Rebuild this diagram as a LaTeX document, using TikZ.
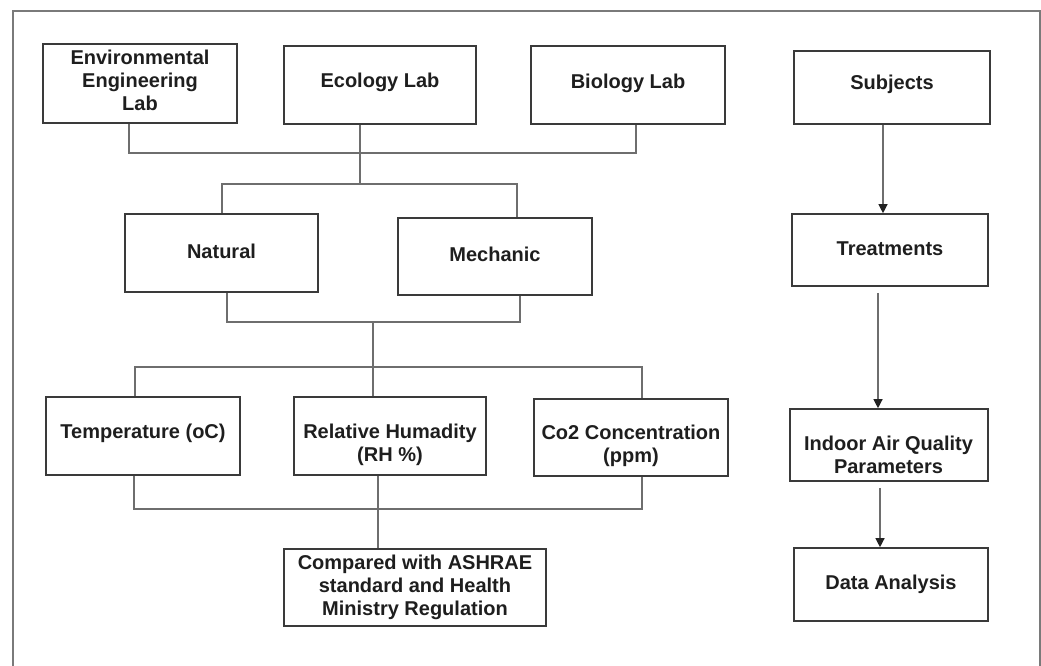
\documentclass[tikz,border=0pt]{standalone}
\usepackage{fontspec}
\setmainfont{Liberation Sans}
\usetikzlibrary{arrows.meta}
\definecolor{boxc}{HTML}{3A3A3A}
\definecolor{connc}{HTML}{6E6E6E}
\definecolor{framec}{HTML}{7A7A7A}
\definecolor{txtc}{HTML}{1E1E1E}
\definecolor{tipc}{HTML}{222222}
\begin{document}
\begin{tikzpicture}[x=1pt,y=-1pt,
  box/.style={draw=boxc, line width=1.6pt, inner sep=0pt},
  txt/.style={inner sep=0pt, align=center, text=txtc, font=\fontsize{20}{23}\selectfont\bfseries},
  conn/.style={draw=connc, line width=1.2pt},
  arr/.style={conn, -{Triangle[length=9pt,width=9pt,color=tipc]}}]
\useasboundingbox (0,0) rectangle (1041,666);
\draw[draw=framec, line width=1.5pt] (13,666) -- (13,11) -- (1040,11) -- (1040,666);

% boxes
\node[box, minimum width=194pt, minimum height=79pt] (env) at (140,83.5) {};
\node[box, minimum width=192pt, minimum height=78pt] (eco) at (380,85) {};
\node[box, minimum width=194pt, minimum height=78pt] (bio) at (628,85) {};
\node[box, minimum width=196pt, minimum height=73pt] (subj) at (892,87.5) {};
\node[box, minimum width=193pt, minimum height=78pt] (nat) at (221.5,253) {};
\node[box, minimum width=194pt, minimum height=77pt] (mech) at (495,256.5) {};
\node[box, minimum width=196pt, minimum height=72pt] (treat) at (890,250) {};
\node[box, minimum width=194pt, minimum height=78pt] (temp) at (143,436) {};
\node[box, minimum width=192pt, minimum height=78pt] (rh) at (390,436) {};
\node[box, minimum width=194pt, minimum height=77pt] (co2) at (631,437.5) {};
\node[box, minimum width=198pt, minimum height=72pt] (iaq) at (889,445) {};
\node[box, minimum width=262pt, minimum height=77pt] (comp) at (415,587.5) {};
\node[box, minimum width=194pt, minimum height=73pt] (data) at (891,584.5) {};

% texts
\node[txt] (envt) at (140,80) {Environmental\\Engineering\\Lab};
\node[txt] (ecot) at (380,82) {Ecology Lab};
\node[txt] (biot) at (628,83) {Biology Lab};
\node[txt] (subjt) at (892,84) {Subjects};
\node[txt] (natt) at (221.5,251) {Natural};
\node[txt] (mecht) at (495,254) {Mechanic};
\node[txt] (treatt) at (890,249) {Treatments};
\node[txt] (tempt) at (143,433) {Temperature (oC)};
\node[txt] (rht) at (390,445) {Relative Humadity\\(RH \%)};
\node[txt] (co2t) at (631,446) {Co2 Concentration\\(ppm)};
\node[txt] (iaqt) at (888.5,455) {Indoor Air Quality\\Parameters};
\node[txt] (compt) at (415,587) {Compared with ASHRAE\\standard and Health\\Ministry Regulation};
\node[txt] (datat) at (891,584) {Data Analysis};

% connectors, left part
\coordinate (a1) at (129,153);
\coordinate (a2) at (636,153);
\draw[conn] (env.south -| a1) -- (a1) -- (a2) -- (bio.south -| a2);
\coordinate (a3) at (360,184);
\coordinate (a4) at (222,184);
\coordinate (a5) at (517,184);
\draw[conn] (eco.south -| a3) -- (a3);
\draw[conn] (nat.north -| a4) -- (a4) -- (a5) -- (mech.north -| a5);
\coordinate (b1) at (227,322);
\coordinate (b2) at (520,322);
\coordinate (b3) at (373,322);
\draw[conn] (nat.south -| b1) -- (b1) -- (b2) -- (mech.south -| b2);
\draw[conn] (b3) -- (rh.north -| b3);
\coordinate (c1) at (135,367);
\coordinate (c2) at (642,367);
\draw[conn] (temp.north -| c1) -- (c1) -- (c2) -- (co2.north -| c2);
\coordinate (d1) at (134,509);
\coordinate (d2) at (642,509);
\draw[conn] (temp.south -| d1) -- (d1) -- (d2) -- (co2.south -| d2);
\coordinate (d3) at (378,0);
\draw[conn] (rh.south -| d3) -- (comp.north -| d3);

% connectors, right part
\coordinate (r1) at (883,0);
\draw[arr] (subj.south -| r1) -- (treat.north -| r1);
\coordinate (r2) at (878,0);
\draw[arr, shorten <=6pt] (treat.south -| r2) -- (iaq.north -| r2);
\coordinate (r3) at (880,0);
\draw[arr, shorten <=6pt] (iaq.south -| r3) -- (data.north -| r3);
\end{tikzpicture}
\end{document}
